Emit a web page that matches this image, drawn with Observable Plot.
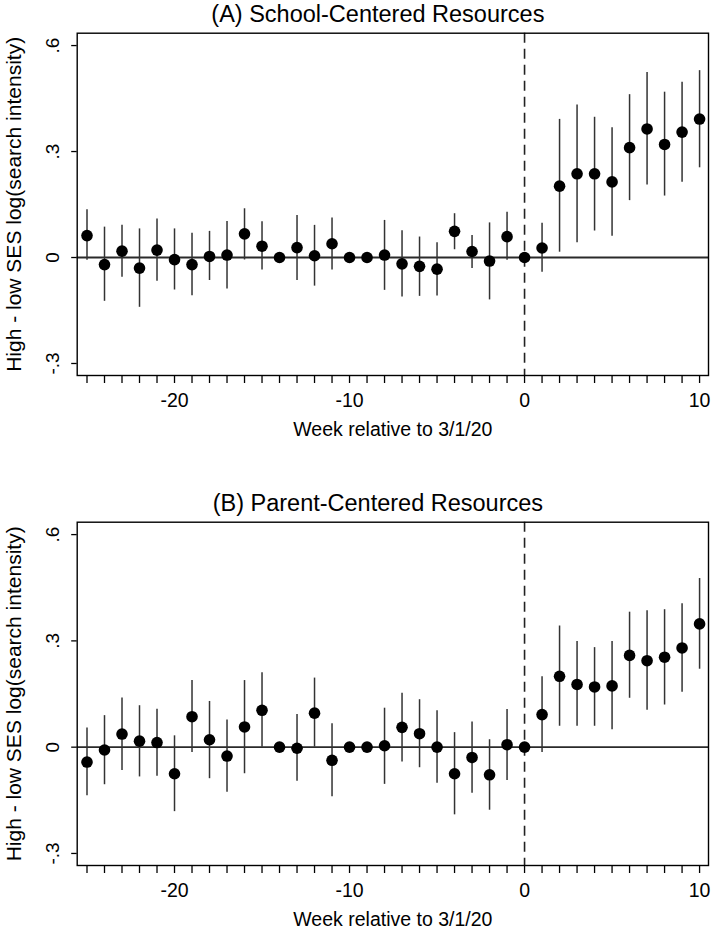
<!DOCTYPE html>
<html>
<head>
<meta charset="utf-8">
<script src="https://cdn.jsdelivr.net/npm/d3@7"></script>
<script src="https://cdn.jsdelivr.net/npm/@observablehq/plot@0.6"></script>
<style>
  html, body { margin: 0; padding: 0; background: #fff; overflow: hidden; }
  #chart svg { display: block; }
</style>
</head>
<body>
<div id="chart"></div>
<script>
const weeks = [-25,-24,-23,-22,-21,-20,-19,-18,-17,-16,-15,-14,-13,-12,-11,-10,-9,-8,-7,-6,-5,-4,-3,-2,-1,0,1,2,3,4,5,6,7,8,9,10];

// Panel A: School-Centered Resources
const estA = [0.062,-0.020,0.018,-0.030,0.021,-0.006,-0.020,0.003,0.007,0.067,0.032,0,0.028,0.005,0.039,0,0,0.007,-0.018,-0.025,-0.033,0.074,0.017,-0.010,0.059,0,0.027,0.202,0.237,0.237,0.214,0.311,0.364,0.320,0.355,0.392];
const loA  = [-0.008,-0.124,-0.056,-0.141,-0.067,-0.092,-0.108,-0.065,-0.089,-0.007,-0.035,null,-0.065,-0.081,-0.035,null,null,-0.093,-0.112,-0.110,-0.109,0.022,-0.031,-0.120,-0.008,null,-0.042,0.015,0.042,0.075,0.060,0.161,0.205,0.174,0.213,0.254];
const hiA  = [0.135,0.086,0.091,0.081,0.109,0.081,0.069,0.074,0.102,0.138,0.101,null,0.119,0.091,0.112,null,null,0.105,0.076,0.058,0.042,0.124,0.062,0.098,0.128,null,0.097,0.391,0.432,0.397,0.367,0.461,0.524,0.468,0.496,0.529];

// Panel B: Parent-Centered Resources
const estB = [-0.042,-0.008,0.037,0.017,0.013,-0.075,0.086,0.021,-0.025,0.057,0.104,0,-0.003,0.096,-0.037,0,0,0.004,0.056,0.038,0,-0.075,-0.029,-0.078,0.007,0,0.092,0.200,0.177,0.170,0.173,0.259,0.244,0.254,0.280,0.348];
const loB  = [-0.137,-0.106,-0.066,-0.084,-0.082,-0.182,-0.015,-0.089,-0.127,-0.075,0.000,null,-0.096,0.000,-0.140,null,null,-0.105,-0.042,-0.058,-0.102,-0.191,-0.130,-0.178,-0.094,null,-0.015,0.059,0.059,0.059,0.049,0.138,0.104,0.119,0.155,0.220];
const hiB  = [0.054,0.089,0.139,0.117,0.107,0.032,0.188,0.129,0.077,0.188,0.210,null,0.092,0.195,0.066,null,null,0.110,0.152,0.134,0.103,0.041,0.071,0.021,0.106,null,0.199,0.342,0.298,0.281,0.298,0.381,0.385,0.388,0.405,0.476];

const xTickLabels = [-20, -10, 0, 10];
const yTicks = [-0.3, 0, 0.3, 0.6];
const yTickText = ["-.3", "0", ".3", ".6"];
const yLabel = "High - low SES log(search intensity)";
const xLabel = "Week relative to 3/1/20";
const titles = ["(A) School-Centered Resources", "(B) Parent-Centered Resources"];

const font = "'Liberation Sans', Arial, Helvetica, sans-serif";

function panel(title, est, lo, hi, height, marginBottom) {
  const data = weeks.map((w, i) => ({week: w, est: est[i], lo: lo[i], hi: hi[i]}));
  const ci = data.filter(d => d.lo != null && d.hi != null);
  return Plot.plot({
    width: 711,
    height,
    marginLeft: 76.7,
    marginRight: 3,
    marginTop: 32.7,
    marginBottom,
    style: {fontFamily: font, background: "#fff", color: "#000"},
    x: {domain: [-25.56, 10.51], axis: null},
    y: {domain: [-0.334, 0.635], axis: null},
    marks: [
      Plot.ruleY([0], {stroke: "#2a2a2a", strokeWidth: 1.8}),
      Plot.ruleX([0], {stroke: "#222", strokeWidth: 1.6, strokeDasharray: "10,6"}),
      Plot.ruleX(ci, {x: "week", y1: "lo", y2: "hi", stroke: "#333", strokeWidth: 1.5}),
      Plot.dot(data, {x: "week", y: "est", r: 5.8, fill: "#000", stroke: "none"}),
      Plot.frame({stroke: "#000", strokeWidth: 1.4}),
      Plot.axisX({ticks: weeks, tickSize: 8, tickPadding: 9.2, fontSize: 19.5, label: null,
        tickFormat: d => xTickLabels.includes(d) ? String(d) : "", stroke: "#000", strokeWidth: 1.3}),
      Plot.axisY({ticks: yTicks, tickSize: 5.5, label: null, tickFormat: () => "", stroke: "#000", strokeWidth: 1.3}),
      Plot.text(yTicks, {y: d => d, text: (d, i) => yTickText[i], frameAnchor: "left", rotate: -90,
        textAnchor: "middle", lineAnchor: "bottom", dx: -18.4, fontSize: 19, fill: "#000"}),
      Plot.text([yLabel], {text: d => d, frameAnchor: "left", rotate: -90, textAnchor: "middle",
        lineAnchor: "bottom", dx: -56, fontSize: 21, fill: "#000"}),
      Plot.text([xLabel], {text: d => d, frameAnchor: "bottom", lineAnchor: "bottom", dy: 60.7,
        fontSize: 19.5, fill: "#000"}),
      Plot.text([title], {text: d => d, frameAnchor: "top", lineAnchor: "bottom", dx: -15, dy: -11,
        fontSize: 23.5, fill: "#000"})
    ]
  });
}

const root = document.getElementById("chart");
root.appendChild(panel(titles[0], estA, loA, hiA, 489, 114));
root.appendChild(panel(titles[1], estB, loB, hiB, 444, 68));
</script>
</body>
</html>
